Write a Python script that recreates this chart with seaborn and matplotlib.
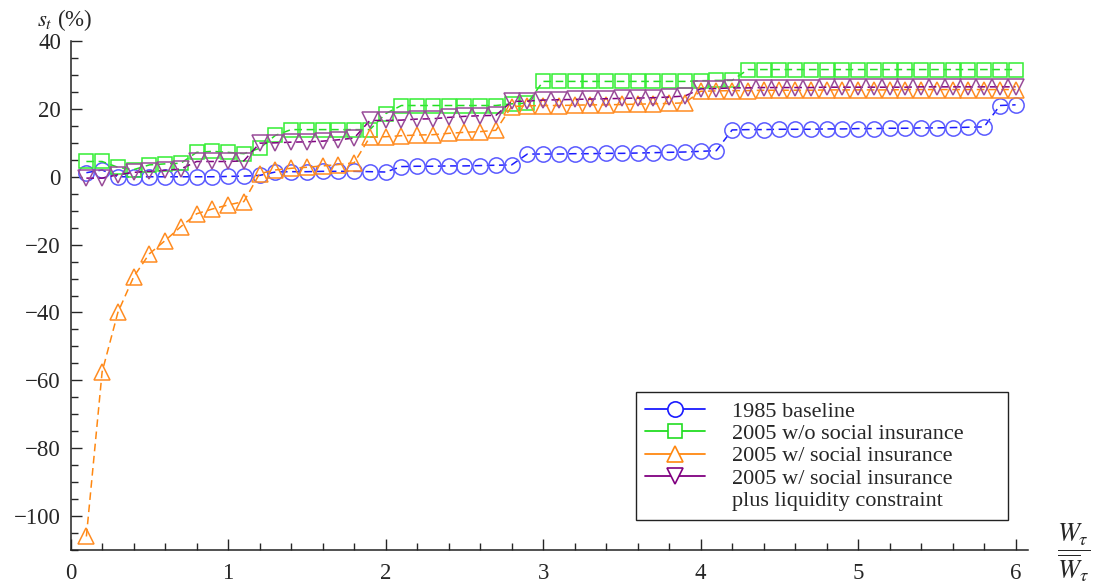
import numpy as np
import pandas as pd
import matplotlib
matplotlib.use("Agg")
import matplotlib.pyplot as plt
import seaborn as sns
from matplotlib.lines import Line2D
from matplotlib.ticker import MultipleLocator

# wealth relative to mean wealth (x axis grid)
x = [0.1, 0.2, 0.3, 0.4, 0.5, 0.6, 0.7, 0.8, 0.9, 1.0,
     1.1, 1.2, 1.3, 1.4, 1.5, 1.6, 1.7, 1.8, 1.9, 2.0,
     2.1, 2.2, 2.3, 2.4, 2.5, 2.6, 2.7, 2.8, 2.9, 3.0,
     3.1, 3.2, 3.3, 3.4, 3.5, 3.6, 3.7, 3.8, 3.9, 4.0,
     4.1, 4.2, 4.3, 4.4, 4.5, 4.6, 4.7, 4.8, 4.9, 5.0,
     5.1, 5.2, 5.3, 5.4, 5.5, 5.6, 5.7, 5.8, 5.9, 6.0]

# saving rates s_t (%)
baseline_1985 = [1.2, 2.0, 0.0, 0.0, 0.0, 0.0, 0.0, 0.0, 0.0, 0.1,
                 0.2, 0.4, 1.4, 1.5, 1.5, 1.6, 1.6, 1.6, 1.5, 1.4,
                 3.0, 3.1, 3.1, 3.2, 3.2, 3.3, 3.4, 3.5, 6.7, 6.7,
                 6.7, 6.8, 6.8, 6.9, 6.9, 7.0, 7.1, 7.2, 7.3, 7.5,
                 7.7, 13.8, 13.9, 13.9, 14.0, 14.0, 14.0, 14.1, 14.1, 14.2,
                 14.2, 14.3, 14.3, 14.4, 14.4, 14.5, 14.6, 14.7, 21.0, 21.2]

no_insurance_2005 = [4.5, 4.5, 2.8, 2.1, 3.5, 3.8, 4.0, 7.2, 7.5, 7.2,
                     6.8, 8.4, 12.2, 13.9, 13.9, 13.9, 13.9, 13.9, 13.9, 18.6,
                     21.0, 21.0, 21.0, 21.0, 21.0, 21.0, 21.0, 21.5, 21.7, 28.1,
                     28.1, 28.1, 28.1, 28.1, 28.1, 28.1, 28.1, 28.1, 28.1, 28.3,
                     28.4, 28.4, 31.6, 31.6, 31.6, 31.6, 31.6, 31.6, 31.6, 31.6,
                     31.6, 31.6, 31.6, 31.6, 31.6, 31.6, 31.6, 31.6, 31.6, 31.6]

with_insurance_2005 = [-106.0, -57.5, -40.0, -29.5, -22.7, -18.8, -14.7, -10.9, -9.5, -8.3,
                       -7.3, 0.9, 2.0, 2.5, 2.8, 3.2, 3.6, 4.1, 11.7, 11.8,
                       12.1, 12.3, 12.4, 12.8, 13.1, 13.3, 13.7, 20.7, 20.9, 21.0,
                       21.0, 21.1, 21.2, 21.2, 21.3, 21.4, 21.5, 21.6, 21.8, 25.2,
                       25.3, 25.4, 25.4, 25.5, 25.5, 25.5, 25.5, 25.6, 25.6, 25.6,
                       25.6, 25.6, 25.7, 25.7, 25.7, 25.7, 25.7, 25.7, 25.7, 25.7]

liquidity_2005 = [-0.4, -0.4, 0.6, 1.3, 1.6, 1.9, 2.3, 4.5, 4.5, 4.5,
                  4.7, 9.9, 10.0, 10.2, 10.3, 10.5, 10.9, 11.4, 16.6, 16.6,
                  16.7, 17.0, 17.1, 17.5, 17.8, 18.0, 18.1, 22.2, 22.3, 22.6,
                  22.7, 22.8, 22.9, 23.0, 23.1, 23.2, 23.3, 23.5, 23.8, 25.9,
                  26.0, 26.2, 26.2, 26.3, 26.3, 26.3, 26.3, 26.4, 26.4, 26.4,
                  26.4, 26.4, 26.4, 26.5, 26.5, 26.5, 26.5, 26.5, 26.5, 26.5]

labels = ['1985 baseline',
          '2005 w/o social insurance',
          '2005 w/ social insurance',
          '2005 w/ social insurance\nplus liquidity constraint']

sns.set_theme(style='ticks')
plt.rcParams['font.family'] = ['Liberation Serif', 'DejaVu Serif']
plt.rcParams['mathtext.fontset'] = 'stix'

fig = plt.figure(figsize=(10.95, 5.88), dpi=100)
ax = fig.add_axes([0.0645, 0.0646, 0.8745, 0.8656])

# (values, line colour, marker, marker colour, marker size)
series = [
    (baseline_1985, '#1a1aff', 'o', '#5a5aff', 11),
    (no_insurance_2005, '#22dd22', 's', '#33ee33', 10.5),
    (with_insurance_2005, '#ff8811', '^', '#ff8c22', 11.5),
    (liquidity_2005, '#800080', 'v', '#994c99', 11.5),
]

handles = []
for (vals, lc, m, mc, ms), lab in zip(series, labels):
    sns.lineplot(x=x, y=vals, ax=ax, color=lc, marker=m, markersize=ms,
                 markerfacecolor='none', markeredgecolor=mc, markeredgewidth=1.1,
                 linestyle=(0, (5, 3)), linewidth=1.1, errorbar=None)
    # legend key: short solid line on each side of an open marker
    handles.append(Line2D([], [], color=lc, lw=1.3, marker=m, markersize=ms,
                          markerfacecolor='white', markeredgecolor=lc,
                          markeredgewidth=1.2))

# last label is two lines; keep its marker on the first line
leg_labels = labels[:3] + labels[3].split('\n')
handles.append(Line2D([], [], linestyle='none', marker=None))

ax.set_xlim(0, 6.08)
ax.set_ylim(-110, 40)
ax.set_xticks([0, 1, 2, 3, 4, 5, 6])
ax.set_yticks([-100, -80, -60, -40, -20, 0, 20, 40])
ax.xaxis.set_minor_locator(MultipleLocator(0.2))
ax.yaxis.set_minor_locator(MultipleLocator(5))
ax.tick_params(which='major', direction='in', length=8, width=1, labelsize=16.5)
ax.tick_params(axis='x', which='major', pad=9)
ax.tick_params(axis='y', which='major', pad=7)
ax.tick_params(which='minor', direction='in', length=5, width=1)
for side in ['top', 'right']:
    ax.spines[side].set_visible(False)
for side in ['left', 'bottom']:
    ax.spines[side].set_color('#222222')
    ax.spines[side].set_linewidth(1.1)
ax.set_xlabel('')
ax.set_ylabel('')

leg = ax.legend(handles, leg_labels, loc='lower left', mode='expand',
                bbox_to_anchor=(0.5906, 0.059, 0.3886, 0.26), borderaxespad=0,
                fontsize=16, frameon=True, fancybox=False, framealpha=1,
                edgecolor='#222222', handlelength=2.7, handletextpad=1.2,
                labelspacing=0.08, borderpad=0.4)
leg.get_frame().set_linewidth(1.0)

fig.text(0.034, 0.955, r'$s_t$ (%)', fontsize=16.5, va='baseline', ha='left')
fig.text(0.98, 0.06, r'$\dfrac{W_\tau}{\overline{W}_\tau}$', fontsize=19,
         ha='center', va='center')

fig.savefig('out.png', dpi=100)
